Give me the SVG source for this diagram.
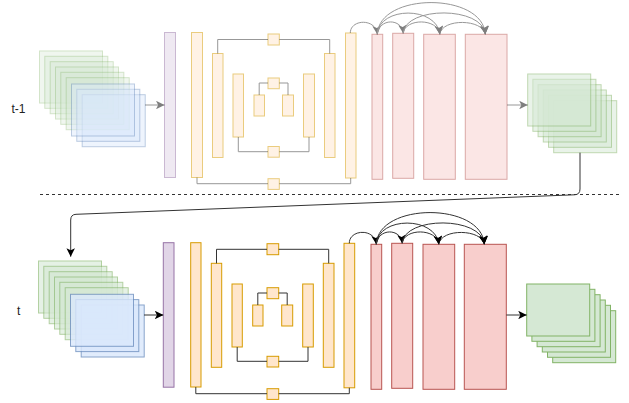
<svg xmlns="http://www.w3.org/2000/svg" width="629" height="403" viewBox="0 0 629 403">
<style>
.g{fill:#d5e8d4;stroke:#82b366}
.b{fill:#dae8fc;stroke:#6c8ebf}
.p{fill:#e1d5e7;stroke:#9673a6}
.o{fill:#ffe6cc;stroke:#d79b00}
.r{fill:#f8cecc;stroke:#b85450}
rect{stroke-width:1}
.gt{opacity:.6}
.bt{opacity:.8}
.fade rect{opacity:.5}
.fade .gt{opacity:.35}
.fade .bt{opacity:.45}
.ln{fill:none;stroke:#333;stroke-width:1}
.lbl{font-family:"Liberation Sans",Arial,sans-serif;font-size:12px;fill:#222}
</style>
<defs>
<marker id="ah" viewBox="0 0 10 10" refX="10" refY="5" markerWidth="8.5" markerHeight="8.5" markerUnits="userSpaceOnUse" orient="auto">
<path d="M0,0 L10,5 L0,10 L2.5,5 Z" fill="#000"/>
</marker>
</defs>

<g id="label-t1"><text class="lbl" x="11.5" y="113">t-1</text></g>
<g id="label-t"><text class="lbl" x="17" y="315">t</text></g>

<!-- TOP ROW -->
<g id="input-t1" class="fade">
<rect class="g gt" x="39.5" y="51" width="63" height="52"/>
<rect class="g gt" x="44.8" y="56.3" width="63" height="52"/>
<rect class="g gt" x="50.2" y="61.7" width="63" height="52"/>
<rect class="g gt" x="55.5" y="67" width="63" height="52"/>
<rect class="g gt" x="60.8" y="72.3" width="63" height="52"/>
<rect class="g gt" x="66.2" y="77.7" width="63" height="52"/>
<rect class="b bt" x="82.2" y="94.7" width="63" height="52"/>
<rect class="b bt" x="76.8" y="89.3" width="63" height="52"/>
<rect class="b bt" x="71.5" y="84" width="63" height="52"/>
</g>
<g id="purple-t1" class="fade"><rect class="p" x="164.5" y="32.5" width="11" height="145"/></g>
<g id="enc1-t1" class="fade"><rect class="o" x="191.5" y="32.5" width="11" height="145"/></g>
<g id="enc2-t1" class="fade"><rect class="o" x="212.5" y="53.5" width="10.5" height="104"/></g>
<g id="enc3-t1" class="fade"><rect class="o" x="233" y="74" width="10.5" height="63"/></g>
<g id="enc4-t1" class="fade"><rect class="o" x="254" y="95" width="10.5" height="21"/></g>
<g id="dec4-t1" class="fade"><rect class="o" x="282.5" y="95" width="11" height="21"/></g>
<g id="dec3-t1" class="fade"><rect class="o" x="303.5" y="74" width="11" height="63"/></g>
<g id="dec2-t1" class="fade"><rect class="o" x="324.5" y="53.5" width="10.5" height="104"/></g>
<g id="dec1-t1" class="fade"><rect class="o" x="345.5" y="33" width="10.5" height="145"/></g>
<g id="sq1-t1" class="fade"><rect class="o" x="268" y="34" width="11.3" height="11"/></g>
<g id="sq2-t1" class="fade"><rect class="o" x="268" y="78" width="11.3" height="10.7"/></g>
<g id="sq3-t1" class="fade"><rect class="o" x="268" y="146.5" width="11.3" height="10.7"/></g>
<g id="sq4-t1" class="fade"><rect class="o" x="268" y="178.7" width="11.3" height="10.7"/></g>
<g id="red1-t1" class="fade"><rect class="r" x="372" y="34.3" width="10.7" height="145"/></g>
<g id="red2-t1" class="fade"><rect class="r" x="392.7" y="33.3" width="21" height="145"/></g>
<g id="red3-t1" class="fade"><rect class="r" x="423.7" y="34.3" width="31.6" height="145"/></g>
<g id="red4-t1" class="fade"><rect class="r" x="465.3" y="34.3" width="41.7" height="145"/></g>
<g id="output-t1" class="fade">
<rect class="g" x="553.7" y="100.7" width="63" height="52"/>
<rect class="g" x="548.5" y="95.3" width="63" height="52"/>
<rect class="g" x="543.3" y="90" width="63" height="52"/>
<rect class="g" x="538.1" y="84.7" width="63" height="52"/>
<rect class="g" x="532.9" y="79.3" width="63" height="52"/>
<rect class="g" x="527.7" y="74" width="63" height="52"/>
</g>

<!-- BOTTOM ROW -->
<g id="input-t">
<rect class="g gt" x="38.5" y="261" width="63" height="52"/>
<rect class="g gt" x="43.8" y="266.3" width="63" height="52"/>
<rect class="g gt" x="49.2" y="271.7" width="63" height="52"/>
<rect class="g gt" x="54.5" y="277" width="63" height="52"/>
<rect class="g gt" x="59.8" y="282.3" width="63" height="52"/>
<rect class="g gt" x="65.2" y="287.7" width="63" height="52"/>
<rect class="b bt" x="81.2" y="305" width="63" height="52"/>
<rect class="b bt" x="75.8" y="299.6" width="63" height="52"/>
<rect class="b bt" x="70.5" y="294.3" width="63" height="52"/>
</g>
<g id="purple-t"><rect class="p" x="163.3" y="242.7" width="10.7" height="144.5"/></g>
<g id="enc1-t"><rect class="o" x="190.7" y="242.7" width="10.3" height="144.3"/></g>
<g id="enc2-t"><rect class="o" x="211.3" y="263.3" width="10.4" height="104"/></g>
<g id="enc3-t"><rect class="o" x="232" y="284" width="10.3" height="63"/></g>
<g id="enc4-t"><rect class="o" x="252.7" y="305" width="10.3" height="21"/></g>
<g id="dec4-t"><rect class="o" x="281.7" y="305" width="11" height="21"/></g>
<g id="dec3-t"><rect class="o" x="302.7" y="284" width="10.6" height="63"/></g>
<g id="dec2-t"><rect class="o" x="323.3" y="263.3" width="10.7" height="104"/></g>
<g id="dec1-t"><rect class="o" x="344" y="243.3" width="10.7" height="144.5"/></g>
<g id="sq1-t"><rect class="o" x="267" y="243.7" width="11.7" height="11"/></g>
<g id="sq2-t"><rect class="o" x="267" y="287.7" width="11.7" height="11"/></g>
<g id="sq3-t"><rect class="o" x="267" y="356.3" width="11.7" height="10.7"/></g>
<g id="sq4-t"><rect class="o" x="267" y="388.7" width="11.7" height="10.7"/></g>
<g id="red1-t"><rect class="r" x="371" y="244.3" width="10.7" height="145"/></g>
<g id="red2-t"><rect class="r" x="391.7" y="243.3" width="21" height="145"/></g>
<g id="red3-t"><rect class="r" x="423" y="244.3" width="31.7" height="145"/></g>
<g id="red4-t"><rect class="r" x="464.3" y="244.3" width="42" height="145"/></g>
<g id="output-t">
<rect class="g" x="552.7" y="310.7" width="63" height="52"/>
<rect class="g" x="547.5" y="305.3" width="63" height="52"/>
<rect class="g" x="542.3" y="300" width="63" height="52"/>
<rect class="g" x="537.1" y="294.7" width="63" height="52"/>
<rect class="g" x="531.9" y="289.3" width="63" height="52"/>
<rect class="g" x="526.7" y="284" width="63" height="52"/>
</g>

<g id="connectors">
<g id="connectors-t1" opacity="0.5">
<path class="ln" d="M145,105 H164.5" marker-end="url(#ah)"/>
<path class="ln" d="M217.7,53.5 V39.5 H268 M279.3,39.5 H329.7 V53.5"/>
<path class="ln" d="M259.2,95 V83 H268 M279.3,83 H288 V95"/>
<path class="ln" d="M238.3,137 V151.7 H268 M279.3,151.7 H309 V137"/>
<path class="ln" d="M197,177.5 V183.7 H268 M279.3,183.7 H350.7 V178"/>
<path class="ln" d="M350.3,33 C350.3,19 376,18 377.3,34.3" marker-end="url(#ah)"/>
<path class="ln" d="M377.3,34.3 C379,18 402,18 403.2,33.3" marker-end="url(#ah)"/>
<path class="ln" d="M403.2,33.3 C405,18 438,18 439.8,34.3" marker-end="url(#ah)"/>
<path class="ln" d="M439.8,34.3 C442,18 483,19 485.3,34.3" marker-end="url(#ah)"/>
<path class="ln" d="M377.3,34.3 C379,6 437,6 439.8,34.3" marker-end="url(#ah)"/>
<path class="ln" d="M403.2,33.3 C405,6 483,6 485.3,34.3" marker-end="url(#ah)"/>
<path class="ln" d="M377.3,34.3 C379,-8 483,-8 485.3,34.3" marker-end="url(#ah)"/>
<path class="ln" d="M507,105 H527.7" marker-end="url(#ah)"/>
</g>
<path class="ln" d="M40,194.5 H622" stroke-dasharray="3 3"/>
<path class="ln" d="M580,152.7 V189 Q580,194.6 574.5,194.8 L76,214.3 Q70.7,214.5 70.7,220 V256.7" marker-end="url(#ah)"/>
<g id="connectors-t">
<path class="ln" d="M144,315 H163.3" marker-end="url(#ah)"/>
<path class="ln" d="M216.5,263.3 V249.3 H267 M278.7,249.3 H328.7 V263.3"/>
<path class="ln" d="M257.8,305 V293 H267 M278.7,293 H287.2 V305"/>
<path class="ln" d="M237.2,347 V361.3 H267 M278.7,361.3 H308 V347"/>
<path class="ln" d="M195.8,387 V393.7 H267 M278.7,393.7 H349.3 V387.8"/>
<path class="ln" d="M349.3,243.3 C349.3,229 375,228 376.3,244.3" marker-end="url(#ah)"/>
<path class="ln" d="M376.3,244.3 C378,228 401,228 402.2,243.3" marker-end="url(#ah)"/>
<path class="ln" d="M402.2,243.3 C404,228 437,228 438.8,244.3" marker-end="url(#ah)"/>
<path class="ln" d="M438.8,244.3 C441,228 482,229 484.3,244.3" marker-end="url(#ah)"/>
<path class="ln" d="M376.3,244.3 C378,216 436,216 438.8,244.3" marker-end="url(#ah)"/>
<path class="ln" d="M402.2,243.3 C404,216 482,216 484.3,244.3" marker-end="url(#ah)"/>
<path class="ln" d="M376.3,244.3 C378,202 482,202 484.3,244.3" marker-end="url(#ah)"/>
<path class="ln" d="M506.3,315 H526.7" marker-end="url(#ah)"/>
</g>
</g>
</svg>
